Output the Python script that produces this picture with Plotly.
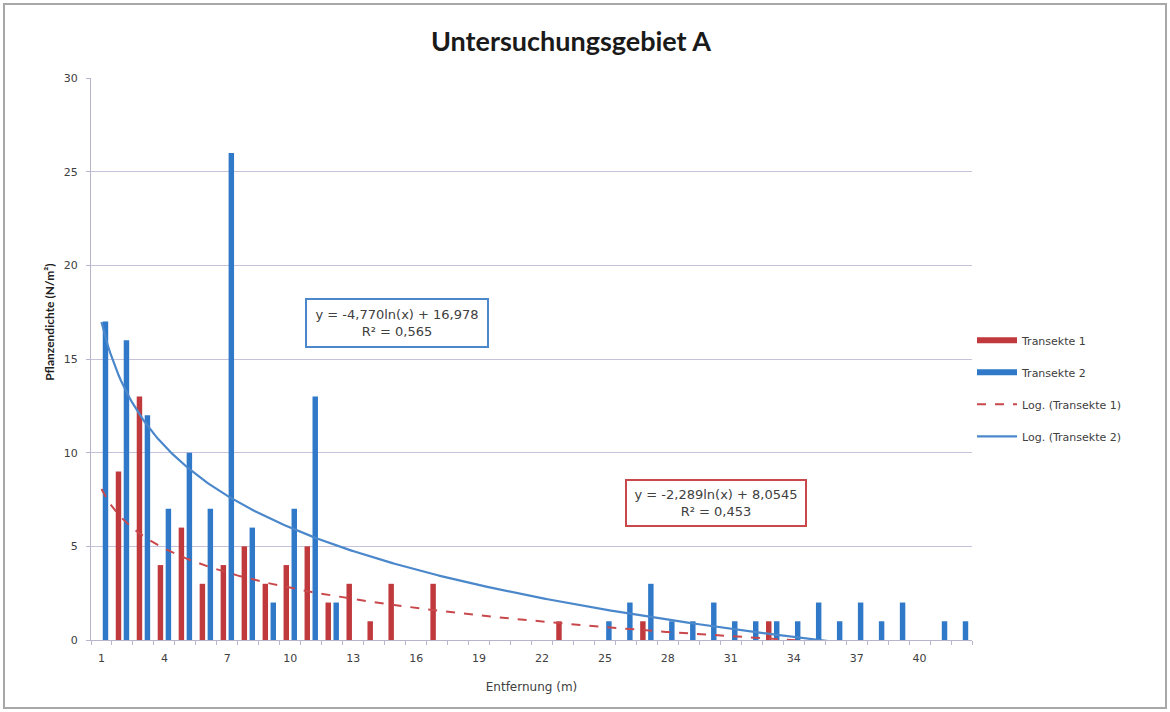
import numpy as np
import plotly.graph_objects as go

# Distance classes (m) and plant density per transect (N/m²)
entfernung = list(range(1, 43))
transekte_1 = [0, 9, 13, 4, 6, 3, 4, 5, 3, 4,
               5, 2, 3, 1, 3, 0, 3, 0, 0, 0,
               0, 0, 1, 0, 0, 0, 1, 0, 0, 0,
               0, 0, 1, 0, 0, 0, 0, 0, 0, 0,
               0, 0]
transekte_2 = [17, 16, 12, 7, 10, 7, 26, 6, 2, 7,
               13, 2, 0, 0, 0, 0, 0, 0, 0, 0,
               0, 0, 0, 0, 1, 2, 3, 1, 1, 2,
               1, 1, 1, 1, 2, 1, 2, 1, 2, 0,
               1, 1]

# Logarithmic trend line coefficients: y = a*ln(x) + b
log1_a, log1_b, log1_r2 = -2.289, 8.0545, 0.453
log2_a, log2_b, log2_r2 = -4.770, 16.978, 0.565

x_tick_labels = [1, 4, 7, 10, 13, 16, 19, 22, 25, 28, 31, 34, 37, 40]
y_tick_labels = [0, 5, 10, 15, 20, 25, 30]

RED = "#c0393c"
BLUE = "#2f79c8"
RED_LINE = "#c9484c"
BLUE_LINE = "#4a87cb"
TEXT = "#404040"
AXIS = "#b8b4cc"
GRID = "#c6c2dc"
TITLE_FONT = "Lato"
FONT = "DejaVu Sans"


def de(v, nd):
    return f"{v:.{nd}f}".replace(".", ",")


fig = go.Figure()

bar_w = 0.26
fig.add_trace(go.Bar(x=entfernung, y=transekte_1, width=bar_w, offset=-0.19 - bar_w / 2,
                     marker=dict(color=RED, line=dict(width=0)),
                     name="Transekte 1", legendgroup="t1", showlegend=False))
fig.add_trace(go.Bar(x=entfernung, y=transekte_2, width=bar_w, offset=0.19 - bar_w / 2,
                     marker=dict(color=BLUE, line=dict(width=0)),
                     name="Transekte 2", legendgroup="t2", showlegend=False))

# Legend swatches for the bar series (on the tick-only overlay axis)
fig.add_trace(go.Scatter(x=[None], y=[None], mode="lines", name="Transekte 1", xaxis="x2",
                         legendgroup="t1", line=dict(color=RED, width=6)))
fig.add_trace(go.Scatter(x=[None], y=[None], mode="lines", name="Transekte 2", xaxis="x2",
                         legendgroup="t2", line=dict(color=BLUE, width=6)))

xs = np.linspace(entfernung[0], entfernung[-1], 400)
fig.add_trace(go.Scatter(x=xs, y=log1_a * np.log(xs) + log1_b, mode="lines",
                         name="Log. (Transekte 1)", legendgroup="l1",
                         line=dict(color=RED_LINE, width=2, dash="dash")))
fig.add_trace(go.Scatter(x=xs, y=log2_a * np.log(xs) + log2_b, mode="lines",
                         name="Log. (Transekte 2)", legendgroup="l2",
                         line=dict(color=BLUE_LINE, width=2.2)))

# Trend line equations
fig.add_annotation(x=15.1, y=16.9, xref="x", yref="y", showarrow=False,
                   text=f"y = {de(log2_a, 3)}ln(x) + {de(log2_b, 3)}<br>R² = {de(log2_r2, 3)}",
                   font=dict(family=FONT, size=13, color=TEXT), align="center",
                   width=176, height=42, valign="middle",
                   bgcolor="white", bordercolor=BLUE_LINE, borderwidth=2, borderpad=2)
fig.add_annotation(x=30.3, y=7.3, xref="x", yref="y", showarrow=False,
                   text=f"y = {de(log1_a, 3)}ln(x) + {de(log1_b, 4)}<br>R² = {de(log1_r2, 3)}",
                   font=dict(family=FONT, size=13, color=TEXT), align="center",
                   width=174, height=40, valign="middle",
                   bgcolor="white", bordercolor=RED_LINE, borderwidth=2, borderpad=2)

# Y axis title
fig.add_annotation(x=-0.058, y=0.565, xref="paper", yref="paper", showarrow=False,
                   text="<b>Pflanzendichte (N/m²)</b>", textangle=-90,
                   font=dict(family=TITLE_FONT, size=12, color="#202020"))

# Outer chart frame
fig.add_shape(type="rect", xref="paper", yref="paper",
              x0=-87 / 881, x1=1 + 194 / 881, y0=-68 / 562, y1=1 + 74 / 562,
              line=dict(color="#a8a8a8", width=2), fillcolor="rgba(0,0,0,0)", layer="below")

boundaries = [v + 0.5 for v in range(0, 43)]

fig.update_layout(
    width=1170, height=712,
    margin=dict(l=91, r=198, t=78, b=72),
    paper_bgcolor="white", plot_bgcolor="white",
    barmode="overlay",
    title=dict(text="<b>Untersuchungsgebiet A</b>", x=571 / 1170, xanchor="center",
               y=1 - 42 / 712, yanchor="middle",
               font=dict(family=TITLE_FONT, size=27, color="#1a1a1a")),
    font=dict(family=FONT, size=11, color=TEXT),
    legend=dict(x=1.0, xanchor="left", y=0.559, yanchor="top",
                traceorder="grouped", tracegroupgap=13, itemwidth=40,
                font=dict(family=FONT, size=11, color=TEXT),
                bgcolor="rgba(0,0,0,0)"),
    xaxis=dict(range=[0.5, 42.5], tickmode="array", tickvals=x_tick_labels,
               ticktext=[str(v) for v in x_tick_labels], ticks="",
               ticklabelstandoff=8,
               showgrid=False, zeroline=False,
               showline=True, linecolor=AXIS, linewidth=1,
               tickfont=dict(family=FONT, size=11, color=TEXT),
               title=dict(text="Entfernung (m)", standoff=18,
                          font=dict(family=FONT, size=12, color=TEXT))),
    xaxis2=dict(range=[0.5, 42.5], overlaying="x", anchor="y", side="bottom",
                tickmode="array", tickvals=boundaries, showticklabels=False,
                ticks="outside", ticklen=4, tickcolor=AXIS,
                showgrid=False, zeroline=False, showline=False),
    yaxis=dict(range=[0, 30], tickmode="array", tickvals=y_tick_labels,
               showgrid=True, gridcolor=GRID, gridwidth=1, zeroline=False,
               showline=True, linecolor=AXIS, linewidth=1,
               ticks="outside", ticklen=4, tickcolor=AXIS, ticklabelstandoff=6,
               tickfont=dict(family=FONT, size=11, color=TEXT)),
)

fig.write_html("out.html")
